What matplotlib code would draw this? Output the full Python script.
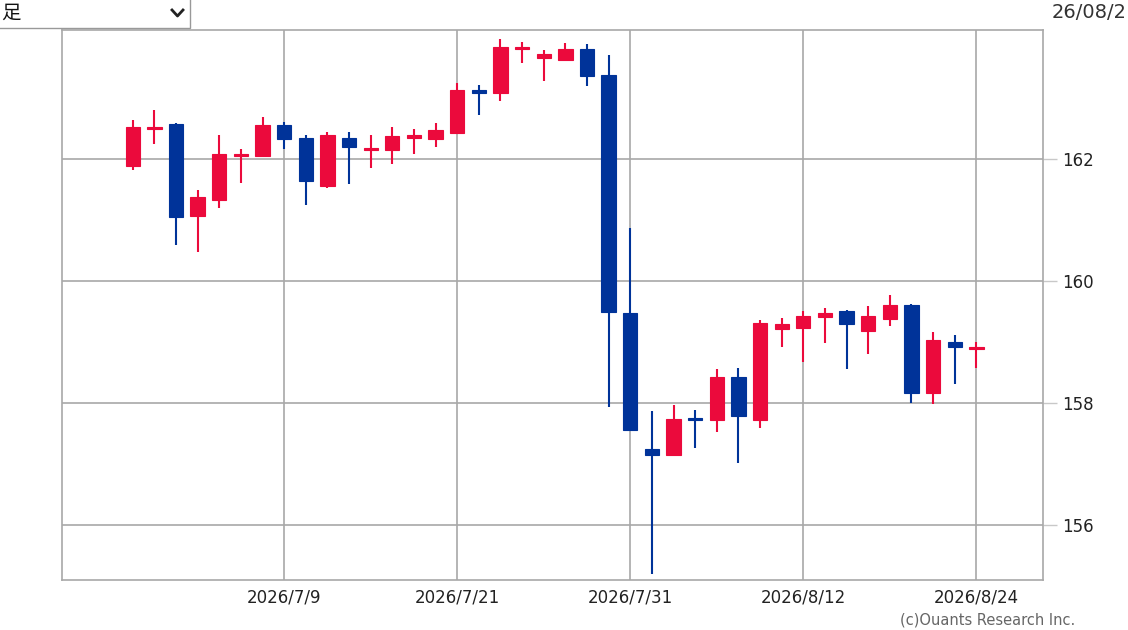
import matplotlib.pyplot as plt
import matplotlib.patches as mpatches
import matplotlib.lines as mlines
import pandas as pd

# daily candles, 6/30 .. 8/24 (business days)
dates = pd.bdate_range("2026-06-30", "2026-08-24")
opens = [161.89, 162.49, 162.58, 161.06, 161.33, 162.05, 162.05, 162.56, 162.34, 161.55,
         162.34, 162.14, 162.14, 162.35, 162.33, 162.43, 163.12, 163.09, 163.80, 163.65,
         163.62, 163.80, 163.38, 159.47, 157.25, 157.15, 157.76, 157.72, 158.42, 157.72,
         159.21, 159.23, 159.41, 159.50, 159.18, 159.37, 159.61, 158.16, 159.00, 158.88]
highs = [162.64, 162.80, 162.59, 161.49, 162.39, 162.16, 162.69, 162.61, 162.39, 162.45,
         162.45, 162.39, 162.53, 162.50, 162.59, 163.24, 163.21, 163.96, 163.92, 163.78,
         163.91, 163.89, 163.70, 160.87, 157.87, 157.97, 157.89, 158.55, 158.58, 159.36,
         159.39, 159.51, 159.55, 159.52, 159.59, 159.77, 159.63, 159.17, 159.11, 159.00]
lows = [161.82, 162.25, 160.59, 160.48, 161.19, 161.61, 162.04, 162.17, 161.25, 161.52,
        161.59, 161.85, 161.92, 162.08, 162.19, 162.41, 162.72, 162.95, 163.57, 163.28,
        163.61, 163.19, 157.94, 157.55, 155.20, 157.14, 157.26, 157.53, 157.01, 157.59,
        158.91, 158.68, 158.99, 158.56, 158.80, 159.26, 158.00, 157.98, 158.31, 158.58]
closes = [162.53, 162.52, 161.05, 161.37, 162.08, 162.08, 162.56, 162.33, 161.64, 162.40,
          162.19, 162.16, 162.37, 162.37, 162.48, 163.13, 163.09, 163.83, 163.82, 163.72,
          163.81, 163.36, 159.49, 157.56, 157.15, 157.74, 157.72, 158.42, 157.78, 159.31,
          159.29, 159.42, 159.47, 159.30, 159.42, 159.61, 158.16, 159.03, 158.92, 158.92]

tick_idx = [7, 15, 23, 31, 39]
y_ticks = [156, 158, 160, 162]

UP = "#EB0A3C"
DOWN = "#003399"

fig = plt.figure(figsize=(11.28, 6.3), dpi=100)
ax = fig.add_axes([62 / 1128, 1 - 580 / 630, 981 / 1128, 550 / 630])

w = 0.66
for i in range(len(opens)):
    o, h, l, c = opens[i], highs[i], lows[i], closes[i]
    col = UP if c >= o else DOWN
    ax.vlines(i, l, h, color=col, lw=1.5, zorder=3)
    bottom = min(o, c)
    height = max(abs(c - o), 0.04)
    ax.add_patch(mpatches.Rectangle((i - w / 2, bottom), w, height,
                                    facecolor=col, edgecolor=col, lw=0.8, zorder=4))

ax.set_xlim(-3.27, 42.08)
ax.set_ylim(155.098, 164.115)

ax.set_xticks(tick_idx)
ax.set_xticklabels([f"{d.year}/{d.month}/{d.day}" for d in dates[tick_idx]])
ax.set_yticks(y_ticks)
ax.set_yticklabels([str(v) for v in y_ticks])
ax.yaxis.tick_right()
ax.grid(True, color="#a8a8a8", lw=1.2)
ax.set_axisbelow(True)
ax.tick_params(axis="y", length=10, color="#c8c8c8", width=1, pad=4,
               labelsize=12, labelcolor="#222222")
ax.tick_params(axis="x", length=0, pad=6, labelsize=12, labelcolor="#222222")
for s in ax.spines.values():
    s.set_color("#a8a8a8")
    s.set_linewidth(1.2)

# page furniture around the chart
fig.text(1075 / 1128, 1 - 620 / 630, "(c)Ouants Research Inc.", ha="right", va="center",
         fontsize=10.5, color="#666666")
fig.text(1052 / 1128, 1 - 12 / 630, "26/08/2", ha="left", va="center",
         fontsize=14, color="#333333")
fig.patches.append(mpatches.Rectangle((-10 / 1128, 1 - 28 / 630), 200 / 1128, 30 / 630,
                                      transform=fig.transFigure, facecolor="white",
                                      edgecolor="#999999", lw=1))
fig.text(1 / 1128, 1 - 13 / 630, "足", ha="left", va="center", fontsize=14,
         family=["Noto Sans CJK JP", "DejaVu Sans"], color="#111111")
# dropdown chevron
fig.lines.append(mlines.Line2D([172 / 1128, 177.5 / 1128, 183 / 1128],
                               [1 - 10 / 630, 1 - 16 / 630, 1 - 10 / 630],
                               transform=fig.transFigure, color="#222222", lw=2))

fig.savefig("out.png", dpi=100)
